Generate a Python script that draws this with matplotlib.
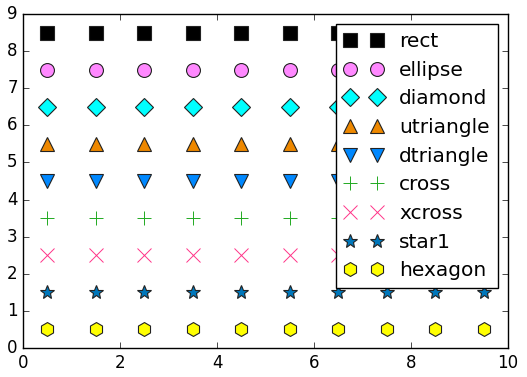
import numpy as np
import matplotlib
matplotlib.use("Agg")
import matplotlib.pyplot as plt

plt.style.use('classic')

# marker rows, top to bottom
names = ['rect', 'ellipse', 'diamond', 'utriangle', 'dtriangle',
         'cross', 'xcross', 'star1', 'hexagon']
markers = ['s', 'o', 'D', '^', 'v', '+', 'x', '*', 'h']
colors = ['#000000', '#ff88ff', '#00ffff', '#ee8800', '#0088ff',
          '#22aa22', '#ff3388', '#0077bb', '#ffff00']
y_levels = [8.5, 7.5, 6.5, 5.5, 4.5, 3.5, 2.5, 1.5, 0.5]
x_vals = [0.5, 1.5, 2.5, 3.5, 4.5, 5.5, 6.5, 7.5, 8.5, 9.5]

fig = plt.figure(figsize=(5.27, 3.77), dpi=100, facecolor='white')
ax = fig.add_axes([0.044, 0.077, 0.920, 0.886])

for name, m, c, y in zip(names, markers, colors, y_levels):
    ys = [y] * len(x_vals)
    ms = 10
    if m == 'D':
        ms = 9
    if m in ('+', 'x'):
        ax.plot(x_vals, ys, linestyle='none', marker=m, color=c,
                markersize=ms, markeredgewidth=0.7, label=name)
    else:
        ax.plot(x_vals, ys, linestyle='none', marker=m, markerfacecolor=c,
                markeredgecolor='#222222', markeredgewidth=0.8,
                markersize=ms, label=name)

ax.set_xlim(0, 10)
ax.set_ylim(0, 9)
ax.tick_params(labelsize=12)
ax.legend(loc='upper right', numpoints=2, fontsize=14.5, borderaxespad=0.5,
          labelspacing=0.48, handletextpad=0.8, handlelength=1.95,
          fancybox=False)

fig.savefig('out.png', dpi=100, facecolor='white')
